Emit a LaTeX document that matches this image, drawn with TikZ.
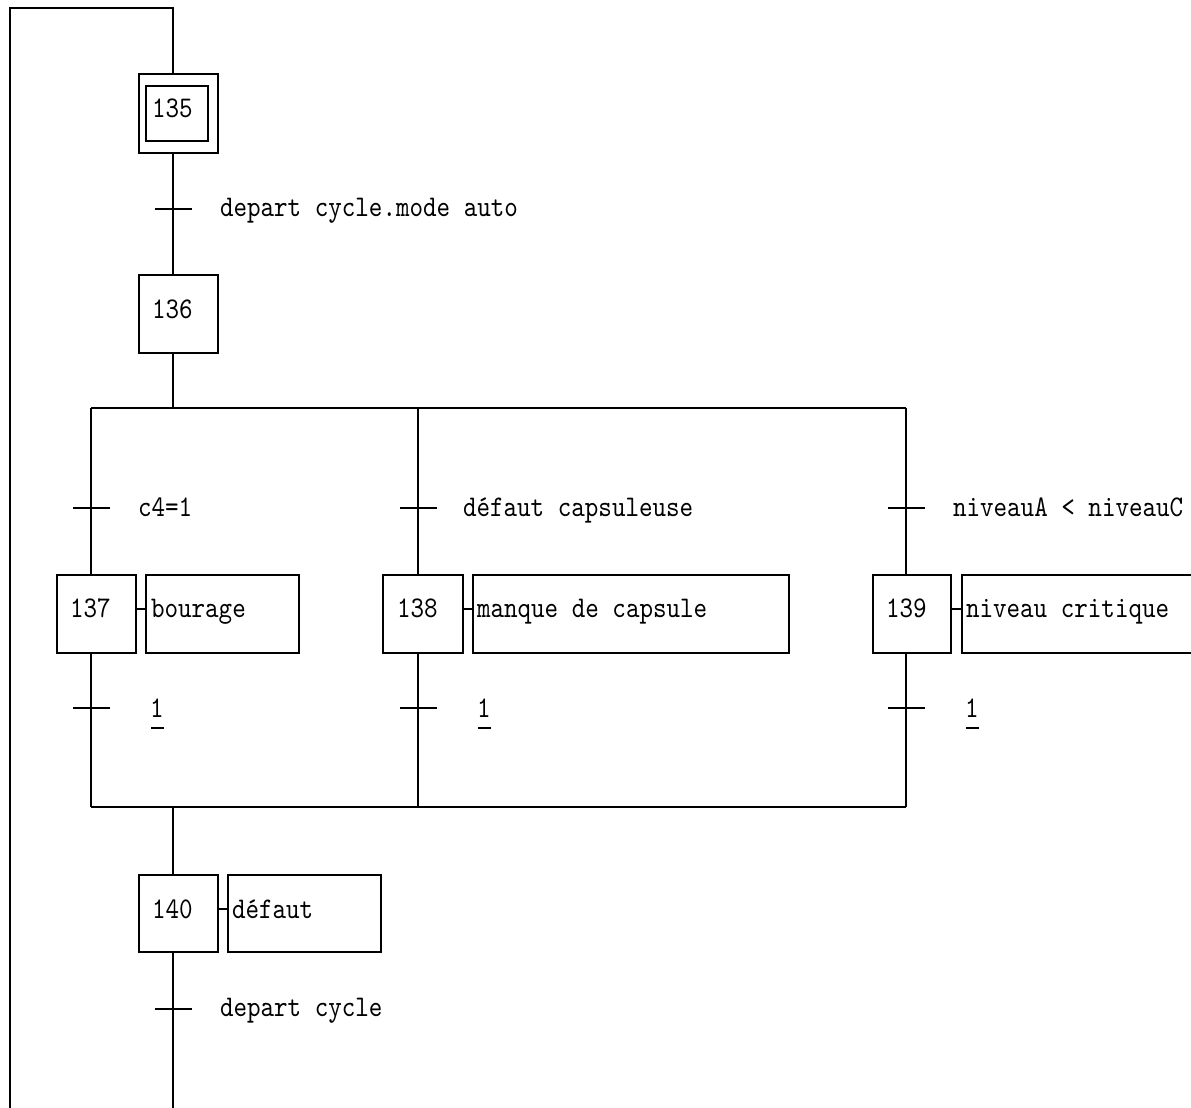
\documentclass[tikz,border=0pt]{standalone}
\usepackage{fontspec}
\newfontfamily\gfont{lmmono10-regular}[Extension=.otf,FakeStretch=0.86]
\begin{document}
\begin{tikzpicture}[x=1pt,y=-1pt, line width=1.6pt,
  every node/.style={font=\gfont\fontsize{30}{32}\selectfont, inner sep=0pt, outer sep=0pt},
  stepbox/.style={draw, minimum width=79pt, minimum height=78pt},
  actbox/.style={draw, minimum height=78pt},
  txt/.style={anchor=base west},
  one/.style={anchor=base}]
\useasboundingbox (0,0) rectangle (1191,1108);
\clip (0,0) rectangle (1191,1108);

% axis coordinates
\coordinate (loopTop) at (10,8);
\coordinate (loopBot) at (10,1112);
\coordinate (top) at (173,8);
\coordinate (bot) at (173,1112);
\coordinate (t1) at (173,209);
\coordinate (div) at (173,408);
\coordinate (divL) at (91,408);
\coordinate (divM) at (418,408);
\coordinate (divR) at (906,408);
\coordinate (conv) at (173,807);
\coordinate (convL) at (91,807);
\coordinate (convM) at (418,807);
\coordinate (convR) at (906,807);
\coordinate (tA) at (91,508);
\coordinate (tB) at (418,508);
\coordinate (tC) at (906,508);
\coordinate (uA) at (91,708);
\coordinate (uB) at (418,708);
\coordinate (uC) at (906,708);
\coordinate (t2) at (173,1009);

% step 135 (initial)
\node[stepbox, minimum height=79pt] (s135) at (178.5,113.5) {};
\node[draw, minimum width=62pt, minimum height=55pt] (s135i) at (177,113.5) {};
\node[txt] (n135) at (152,117) {135};

% step 136
\node[stepbox] (s136) at (178.5,314) {};
\node[txt] (n136) at (152,318) {136};

% steps 137-139
\node[stepbox] (s137) at (96.5,614) {};
\node[txt] (n137) at (70,617) {137};
\node[actbox, minimum width=153pt] (a137) at (222.5,614) {};
\node[txt] (x137) at (151,617) {bourage};

\node[stepbox, minimum width=80pt] (s138) at (423,614) {};
\node[txt] (n138) at (397,617) {138};
\node[actbox, minimum width=316pt] (a138) at (631,614) {};
\node[txt] (x138) at (477,617) {manque de capsule};

\node[stepbox, minimum width=78pt] (s139) at (912,614) {};
\node[txt] (n139) at (886,617) {139};
\node[actbox, minimum width=250pt] (a139) at (1087,614) {};
\node[txt] (x139) at (966,617) {niveau critique};

% step 140
\node[stepbox, minimum height=77pt] (s140) at (178.5,913.5) {};
\node[txt] (n140) at (152,918) {140};
\node[actbox, minimum width=153pt, minimum height=77pt] (a140) at (304.5,913.5) {};
\node[txt] (x140) at (232,918) {défaut};

% action links
\draw (s137.east |- 0,609) -- (a137.west |- 0,609);
\draw (s138.east |- 0,609) -- (a138.west |- 0,609);
\draw (s139.east |- 0,609) -- (a139.west |- 0,609);
\draw (s140.east |- 0,909) -- (a140.west |- 0,909);

% loop back (runs off the bottom edge)
\draw (loopBot) -- (loopTop) -- (top) -- (s135.north -| top);

% 135 -> 136
\draw (s135.south -| top) -- (s136.north -| top);
\draw (t1) ++(-18,0) -- ++(37,0);
\node[txt] (l1) at (220,216) {depart cycle.mode auto};

% divergence
\draw (s136.south -| top) -- (div);
\draw (divL) -- (divR);
\draw (divL) -- (s137.north -| divL);
\draw (divM) -- (s138.north -| divM);
\draw (divR) -- (s139.north -| divR);
\draw (tA) ++(-18,0) -- ++(37,0);
\draw (tB) ++(-18,0) -- ++(37,0);
\draw (tC) ++(-18,0) -- ++(37,0);
\node[txt] (lA) at (138,516) {c4=1};
\node[txt] (lB) at (463,516) {défaut capsuleuse};
\node[txt] (lC) at (953,516) {niveauA < niveauC};

% convergence
\draw (s137.south -| convL) -- (convL);
\draw (s138.south -| convM) -- (convM);
\draw (s139.south -| convR) -- (convR);
\draw (convL) -- (convR);
\draw (uA) ++(-18,0) -- ++(37,0);
\draw (uB) ++(-18,0) -- ++(37,0);
\draw (uC) ++(-18,0) -- ++(37,0);
\node[one] (oA) at (157,717) {1};
\node[one] (oB) at (484,717) {1};
\node[one] (oC) at (972,717) {1};
\draw ([shift={(-6,11)}]oA.base) -- ++(13,0);
\draw ([shift={(-6,11)}]oB.base) -- ++(13,0);
\draw ([shift={(-6,11)}]oC.base) -- ++(13,0);

% to 140 and below (runs off the bottom edge)
\draw (conv) -- (s140.north -| conv);
\draw (s140.south -| conv) -- (bot);
\draw (t2) ++(-18,0) -- ++(37,0);
\node[txt] (l2) at (220,1016) {depart cycle};
\end{tikzpicture}
\end{document}
